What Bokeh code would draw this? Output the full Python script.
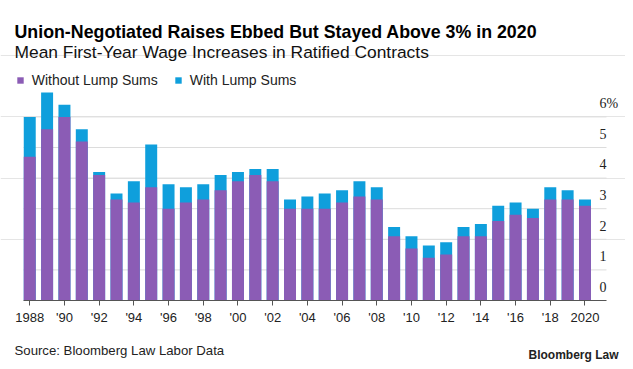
from bokeh.plotting import figure
from bokeh.layouts import column
from bokeh.models import (ColumnDataSource, LabelSet, FixedTicker, Range1d,
                          Legend, LegendItem)
from bokeh.core.properties import value
from bokeh.embed import file_html
from bokeh.resources import INLINE

# ---------------- data ----------------
years = list(range(1988, 2021))
without_lump = [4.7, 5.6, 6.0, 5.2, 4.1, 3.3, 3.2, 3.7, 3.0, 3.2, 3.3, 3.6, 3.9, 4.1, 3.9,
                3.0, 3.0, 3.0, 3.2, 3.4, 3.3, 2.1, 1.7, 1.4, 1.5, 2.1, 2.1, 2.6, 2.8, 2.7,
                3.3, 3.3, 3.1]
with_lump = [6.0, 6.8, 6.4, 5.6, 4.2, 3.5, 3.9, 5.1, 3.8, 3.7, 3.8, 4.1, 4.2, 4.3, 4.3,
             3.3, 3.4, 3.5, 3.6, 3.9, 3.7, 2.4, 2.1, 1.8, 1.9, 2.4, 2.5, 3.1, 3.2, 3.0,
             3.7, 3.6, 3.3]
y_ticks = [0, 1, 2, 3, 4, 5, 6]
y_tick_labels = ["0", "1", "2", "3", "4", "5", "6%"]
x_ticks = list(range(1988, 2021, 2))
x_tick_labels = ["1988", "'90", "'92", "'94", "'96", "'98", "'00", "'02", "'04", "'06",
                 "'08", "'10", "'12", "'14", "'16", "'18", "2020"]

title_text = "Union-Negotiated Raises Ebbed But Stayed Above 3% in 2020"
subtitle_text = "Mean First-Year Wage Increases in Ratified Contracts"
source_text = "Source: Bloomberg Law Labor Data"
brand_text = "Bloomberg Law"

# ---------------- layout ----------------
W = 625
MAIN_H, FOOT_H = 332, 35
# plotting area (axis extent) in page pixels
PL, PR, PB = 23, 606, 300
PX_PER_YEAR = 17.351
PX_PER_UNIT = 30.6
XA0 = 1987.64           # data x at PL
XA1 = 2021.24           # data x at PR
X0 = XA0 - PL / PX_PER_YEAR
X1 = XA1 + (W - PR) / PX_PER_YEAR
Y0, Y1 = 0.0, PB / PX_PER_UNIT
TEXT_SHIFT = 5  # text glyph baseline correction (px)


def X(px):
    return X0 + px / PX_PER_YEAR


def Y(py):
    return (PB - py) / PX_PER_UNIT


FONT = "Liberation Sans"
PURPLE = "#8b5cb5"
BLUE = "#0f9fdc"
GRID = "#dcdcdc"
DARK = "#222222"

p = figure(width=W, height=MAIN_H, x_range=Range1d(X0, X1), y_range=Range1d(Y0, Y1),
           output_backend="svg", toolbar_location=None, y_axis_location=None,
           min_border_left=0, min_border_right=0, min_border_top=0,
           min_border_bottom=MAIN_H - PB)
p.outline_line_color = None
p.xgrid.visible = False
p.background_fill_color = "white"
p.border_fill_color = "white"

# horizontal gridlines, limited to the axis extent
gsrc = ColumnDataSource(dict(y=y_ticks[1:]))
p.segment(x0=XA0, x1=XA1, y0="y", y1="y", source=gsrc, line_color=GRID, line_width=1)

src = ColumnDataSource(dict(year=years, without=without_lump, with_=with_lump))
blue = p.vbar(x="year", top="with_", width=0.69, source=src, fill_color=BLUE,
              line_color=None)
purple = p.vbar(x="year", top="without", width=0.69, source=src, fill_color=PURPLE,
                line_color=None)

xa = p.xaxis[0]
xa.ticker = FixedTicker(ticks=x_ticks)
xa.bounds = (XA0, XA1)
xa.major_label_overrides = {t: l for t, l in zip(x_ticks, x_tick_labels)}
xa.axis_line_color = "#555555"
xa.axis_line_width = 1.2
xa.major_tick_line_color = "#555555"
xa.major_tick_in = 0
xa.major_tick_out = 5
xa.minor_tick_line_color = None
xa.major_label_standoff = 4
xa.major_label_text_font = FONT
xa.major_label_text_font_size = "13px"
xa.major_label_text_color = DARK

# y tick labels sitting just above their gridlines
ysrc = ColumnDataSource(dict(x=[X(599)] * len(y_ticks),
                             y=[t + 8.7 / PX_PER_UNIT for t in y_ticks],
                             text=y_tick_labels))
p.add_layout(LabelSet(x="x", y="y", text="text", source=ysrc, text_align="left",
                      text_baseline="alphabetic", text_font=FONT,
                      text_font_size="14px", text_color=DARK))

legend = Legend(items=[LegendItem(label="Without Lump Sums", renderers=[purple]),
                       LegendItem(label="With Lump Sums", renderers=[blue])],
                orientation="horizontal", location=(15.7, PB - 88),
                glyph_width=8, glyph_height=8, label_standoff=8, spacing=16,
                padding=0, margin=0, border_line_color=None,
                background_fill_alpha=0, label_height=10,
                label_text_font=FONT, label_text_font_size="14px",
                label_text_color=DARK)
p.add_layout(legend, "center")

# title and subtitle
p.text(x=[X(14)], y=[Y(36.5 - TEXT_SHIFT)], text=[title_text], text_font=value(FONT),
       text_font_style="bold", text_font_size="17.8px", text_color="#000000",
       text_baseline="alphabetic")
p.text(x=[X(14)], y=[Y(56.5 - TEXT_SHIFT)], text=[subtitle_text], text_font=value(FONT),
       text_font_size="17.4px", text_color="#111111", text_baseline="alphabetic")

# footer
f = figure(width=W, height=FOOT_H, x_range=Range1d(0, W), y_range=Range1d(FOOT_H, 0),
           output_backend="svg", toolbar_location=None, x_axis_location=None,
           y_axis_location=None, min_border=0)
f.outline_line_color = None
f.xgrid.visible = False
f.ygrid.visible = False
f.background_fill_color = "white"
f.border_fill_color = "white"
f.text(x=[14], y=[355 - TEXT_SHIFT - MAIN_H], text=[source_text], text_font=value(FONT),
       text_font_size="13.2px", text_color=DARK, text_baseline="alphabetic")
f.text(x=[618], y=[359.3 - TEXT_SHIFT - MAIN_H], text=[brand_text], text_font=value(FONT),
       text_font_style="bold", text_font_size="12px", text_color=DARK,
       text_align="right", text_baseline="alphabetic")

layout = column(p, f, spacing=0)
open("out.html", "w").write(file_html(layout, INLINE))
